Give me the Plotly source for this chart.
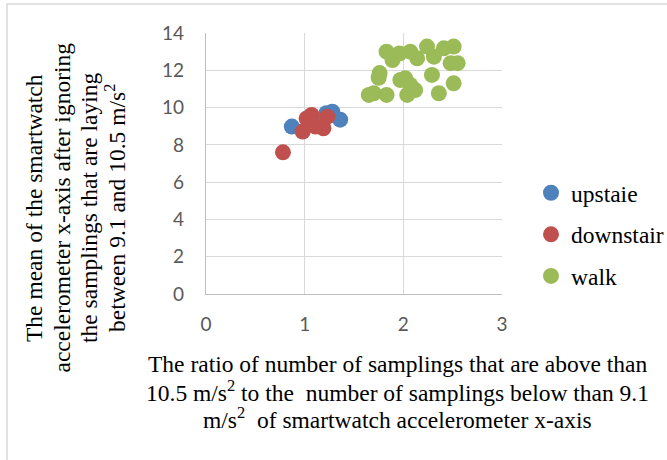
import plotly.graph_objects as go

# ---- data ----
upstaie_x = [0.87, 1.28, 1.36, 1.22, 1.12]
upstaie_y = [8.98, 9.78, 9.35, 9.70, 9.25]

downstair_x = [0.78, 0.98, 1.02, 1.07, 1.11, 1.19, 1.23, 1.06]
downstair_y = [7.60, 8.71, 9.42, 9.60, 8.98, 8.89, 9.51, 9.16]

walk_x = [1.83, 1.89, 1.96, 2.07, 2.14, 2.24, 2.31, 2.41, 2.51, 2.48, 2.55,
          1.76, 1.75, 1.97, 2.07, 2.04, 2.29, 2.51, 1.65, 1.70, 1.83, 2.36,
          2.12, 2.02]
walk_y = [13.00, 12.55, 12.90, 13.00, 12.64, 13.27, 12.73, 13.18, 13.27, 12.38, 12.38,
          11.85, 11.60, 11.48, 11.21, 10.68, 11.75, 11.30, 10.68, 10.77, 10.68, 10.77,
          10.94, 11.57]

series_names = ["upstaie", "downstair", "walk"]
series_colors = ["#4F81BD", "#C0504D", "#9BBB59"]

x_ticks = [0, 1, 2, 3]
y_ticks = [0, 2, 4, 6, 8, 10, 12, 14]

y_title_lines = [
    "The mean of the smartwatch",
    "accelerometer x-axis after ignoring",
    "the samplings that are laying",
    "between 9.1 and 10.5 m/s<sup>2</sup>",
]
x_title_lines = [
    "The ratio of number of samplings that are above than",
    "10.5 m/s<sup>2</sup> to the&nbsp; number of samplings below than 9.1",
    "m/s<sup>2</sup>&nbsp; of smartwatch accelerometer x-axis",
]

# ---- figure ----
W, H = 667, 460
ML, MR, MT, MB = 206, 165, 33, 166
PW, PH = W - ML - MR, H - MT - MB


def px2paper_x(px):
    return (px - ML) / PW


def px2paper_y(py):
    return (H - MB - py) / PH


serif = "Liberation Serif, Times New Roman, serif"

fig = go.Figure()
for name, color, xs, ys in zip(series_names, series_colors,
                               [upstaie_x, downstair_x, walk_x],
                               [upstaie_y, downstair_y, walk_y]):
    fig.add_trace(go.Scatter(
        x=xs, y=ys, mode="markers", name=name, legendgroup=name,
        marker=dict(size=16, color=color, line=dict(width=0)),
    ))

axis_common = dict(
    showgrid=True, gridcolor="#D9D9D9", gridwidth=1.3,
    showline=True, linecolor="#BFBFBF", linewidth=1.3,
    zeroline=False, ticks="",
    tickfont=dict(family="Lato, Carlito, sans-serif", size=19, color="#595959"),
)

fig.update_xaxes(range=[0, 3], tickvals=x_ticks, ticklabelstandoff=13, **axis_common)
fig.update_yaxes(range=[0, 14], tickvals=y_ticks, ticklabelstandoff=17, **axis_common)

annotations = []
y_centers = [34, 61.5, 89, 115]
for line, cx in zip(y_title_lines, y_centers):
    annotations.append(dict(
        text=line, x=px2paper_x(cx), y=px2paper_y(208), xref="paper", yref="paper",
        xanchor="center", yanchor="middle", textangle=-90, showarrow=False,
        font=dict(family=serif, size=23.5, color="#000000"),
    ))
x_centers_y = [364, 391, 418]
for line, cy in zip(x_title_lines, x_centers_y):
    annotations.append(dict(
        text=line, x=px2paper_x(397), y=px2paper_y(cy), xref="paper", yref="paper",
        xanchor="center", yanchor="middle", showarrow=False,
        font=dict(family=serif, size=23.5, color="#000000"),
    ))

fig.update_layout(
    width=W, height=H,
    margin=dict(l=ML, r=MR, t=MT, b=MB, autoexpand=False),
    paper_bgcolor="white", plot_bgcolor="white",
    showlegend=True,
    legend=dict(
        x=px2paper_x(531), y=px2paper_y(171), xanchor="left", yanchor="top",
        xref="paper", yref="paper",
        font=dict(family=serif, size=23.5, color="#000000"),
        traceorder="grouped", tracegroupgap=8, itemwidth=30,
        bgcolor="rgba(0,0,0,0)", borderwidth=0,
    ),
    annotations=annotations,
    shapes=[dict(
        type="rect", xref="paper", yref="paper",
        x0=px2paper_x(7), x1=px2paper_x(690),
        y0=px2paper_y(480), y1=px2paper_y(4),
        line=dict(color="#D9D9D9", width=1.5), fillcolor="rgba(0,0,0,0)",
        layer="below",
    )],
)

fig.write_html("out.html", config={"displayModeBar": False},
               post_script="document.body.style.margin='0';")
